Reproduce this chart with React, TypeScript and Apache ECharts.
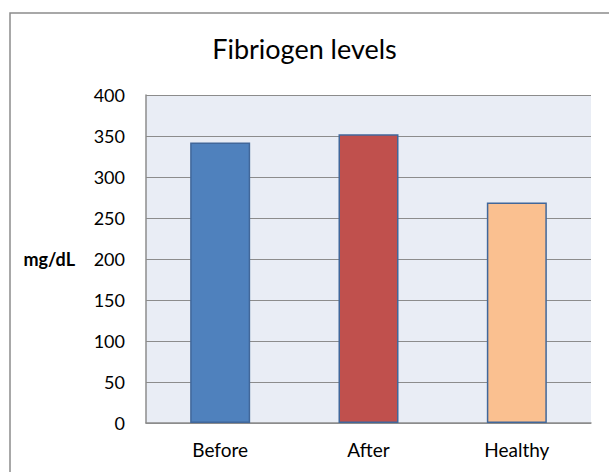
import React, { useEffect, useRef } from "react";
import * as echarts from "echarts";

const categories = ["Before", "After", "Healthy"];
const values = [342, 352, 269];
const barColors = ["#4f81bd", "#c0504d", "#fac090"];
const yTicks = { min: 0, max: 400, interval: 50 };
const titleText = "Fibriogen levels";
const yName = "mg/dL";

const FONT = "Lato, 'Open Sans', 'Noto Sans', sans-serif";

export default function App() {
  const ref = useRef<HTMLDivElement>(null);
  useEffect(() => {
    if (!ref.current) return;
    const chart = echarts.init(ref.current, null, { renderer: "svg" });
    chart.setOption({
      animation: false,
      backgroundColor: "#ffffff",
      title: {
        text: titleText,
        left: "center",
        top: 30,
        textStyle: { fontFamily: FONT, fontSize: 27, fontWeight: "normal", color: "#000" },
      },
      graphic: [
        {
          type: "rect",
          shape: { x: 10, y: 13, width: 700, height: 600 },
          style: { fill: "none", stroke: "#8c8c8c", lineWidth: 1.5 },
          silent: true,
        },
      ],
      grid: {
        left: 146,
        top: 95,
        right: 18,
        bottom: 49,
        show: true,
        backgroundColor: "#e9edf5",
        borderWidth: 0,
      },
      xAxis: {
        type: "category",
        data: categories,
        axisLine: { show: true, lineStyle: { color: "#8c8c8c", width: 1.5 } },
        axisTick: { show: false },
        axisLabel: { fontFamily: FONT, fontSize: 19, color: "#000", margin: 17 },
      },
      yAxis: {
        type: "value",
        min: yTicks.min,
        max: yTicks.max,
        interval: yTicks.interval,
        name: yName,
        nameLocation: "middle",
        nameRotate: 0,
        nameGap: 71,
        nameTextStyle: { fontFamily: FONT, fontSize: 18, fontWeight: "bold", color: "#000", align: "right" },
        axisLine: { show: true, lineStyle: { color: "#8c8c8c", width: 1.5 } },
        axisTick: { show: false },
        splitLine: { show: true, lineStyle: { color: "#8c8c8c", width: 1.2 } },
        axisLabel: { fontFamily: FONT, fontSize: 18, color: "#000", margin: 21 },
      },
      series: [
        {
          type: "bar",
          barWidth: 60,
          data: values.map((v, i) => ({
            value: v,
            itemStyle: { color: barColors[i], borderColor: "#41679a", borderWidth: 1.5 },
          })),
        },
      ],
    });
    return () => chart.dispose();
  }, []);
  return (
    <div
      ref={ref}
      style={{ position: "fixed", left: 0, top: 0, width: 609, height: 472 }}
    />
  );
}
